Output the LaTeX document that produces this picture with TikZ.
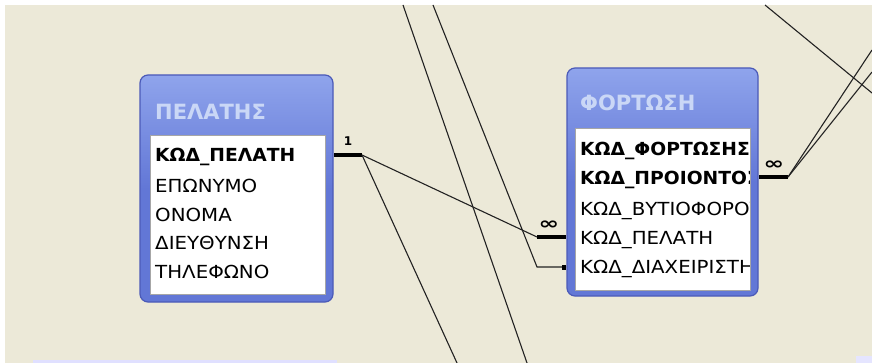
\documentclass[tikz,border=0pt]{standalone}
\usepackage{fontspec}
\setmainfont{DejaVu Sans}
\usetikzlibrary{calc}
\definecolor{bg}{HTML}{ECE9D8}
\definecolor{frameblue}{HTML}{6277D6}
\definecolor{frameedge}{HTML}{4B5AB8}
\definecolor{headtop}{HTML}{8FA4EC}
\definecolor{headtxt}{HTML}{CAD7F6}
\definecolor{ln}{HTML}{222222}
\tikzset{
  x=1pt,y=-1pt,
  tablebox/.style={draw=frameedge,line width=1.2pt,rounded corners=8pt,top color=headtop,bottom color=frameblue,middle color=frameblue},
  listbox/.style={fill=white,draw=gray!70,line width=0.8pt},
  headtext/.style={anchor=west,inner sep=0pt,text=headtxt,font=\fontsize{21}{21}\selectfont\bfseries},
  rowtext/.style={anchor=west,inner sep=0pt,xscale=1.1,font=\fontsize{18}{18}\selectfont},
  keytext/.style={anchor=west,inner sep=0pt,xscale=1.04,font=\fontsize{18}{18}\selectfont\bfseries},
  thinline/.style={draw=ln,line width=1.1pt},
  thickline/.style={draw=black,line width=3.8pt},
  cardone/.style={inner sep=0pt,font=\fontsize{12}{12}\selectfont\bfseries},
  cardmany/.style={inner sep=0pt,font=\fontsize{17}{17}\selectfont\bfseries,xscale=1.45}
}
\begin{document}
\begin{tikzpicture}
\useasboundingbox (0,0) rectangle (872,363);
\fill[white] (0,0) rectangle (872,363);
\fill[bg] (5,5) rectangle (872,363);
% faint bottom table tops
\fill[blue!12] (33,360) rectangle (337,363);
\fill[blue!10] (856,356) rectangle (872,363);

% coordinates of free ends and bends
\coordinate (topA) at (403,5);
\coordinate (botA) at (527,363);
\coordinate (topB) at (433,5);
\coordinate (bendB) at (537,267);
\coordinate (bot2) at (457,363);
\coordinate (topD) at (765,5);
\coordinate (rightD) at (872,93);
\coordinate (rightC1) at (872,50);
\coordinate (rightC2) at (872,72);
\coordinate (p1) at (362,155);
\coordinate (f1) at (537,237);
\coordinate (f2) at (788,177);

% table ΠΕΛΑΤΗΣ
\path[tablebox] (140,75) rectangle (333,302);
\path[listbox] (150,135) rectangle (325,294);
\node[headtext] (pelh) at (155,112) {ΠΕΛΑΤΗΣ};
\begin{scope}
\clip (151,136) rectangle (324,293);
\node[keytext] (pr1) at (155,157) {ΚΩΔ\_ΠΕΛΑΤΗ};
\node[rowtext] (pr2) at (155,186) {ΕΠΩΝΥΜΟ};
\node[rowtext] (pr3) at (155,214.5) {ΟΝΟΜΑ};
\node[rowtext] (pr4) at (155,243) {ΔΙΕΥΘΥΝΣΗ};
\node[rowtext] (pr5) at (155,272) {ΤΗΛΕΦΩΝΟ};
\end{scope}

% table ΦΟΡΤΩΣΗ
\path[tablebox] (567,68) rectangle (758,296);
\path[listbox] (575,128) rectangle (750,290);
\node[headtext] (forh) at (580,103) {ΦΟΡΤΩΣΗ};
\begin{scope}
\clip (576,129) rectangle (749,289);
\node[keytext] (fr1) at (580,151) {ΚΩΔ\_ΦΟΡΤΩΣΗΣ};
\node[keytext] (fr2) at (580,180) {ΚΩΔ\_ΠΡΟΙΟΝΤΟΣ};
\node[rowtext] (fr3) at (580,210.5) {ΚΩΔ\_ΒΥΤΙΟΦΟΡΟΥ};
\node[rowtext] (fr4) at (580,240) {ΚΩΔ\_ΠΕΛΑΤΗ};
\node[rowtext] (fr5) at (580,269) {ΚΩΔ\_ΔΙΑΧΕΙΡΙΣΤΗ};
\end{scope}

% connectors
\coordinate (pe1) at (334,155);
\coordinate (fe4) at (566,237);
\coordinate (fe5) at (566,267);
\coordinate (fe2) at (759,177);
\draw[thickline] (pe1) -- (p1);
\draw[thinline] (p1) -- (f1);
\draw[thickline] (f1) -- (fe4);
\draw[thinline] (p1) -- (bot2);
\draw[thinline] (topA) -- (botA);
\draw[thinline] (topB) -- (bendB) -- (fe5);
\fill[black] ($(fe5)+(-4,-2.5)$) rectangle ($(fe5)+(0,2.5)$);
\draw[thickline] (fe2) -- (f2);
\draw[thinline] (f2) -- (rightC1);
\draw[thinline] (f2) -- (rightC2);
\draw[thinline] (topD) -- (rightD);

\node[cardone] (l1) at (348,141) {1};
\node[cardmany] (l2) at (549,225) {∞};
\node[cardmany] (l3) at (774,165) {∞};
\end{tikzpicture}
\end{document}
